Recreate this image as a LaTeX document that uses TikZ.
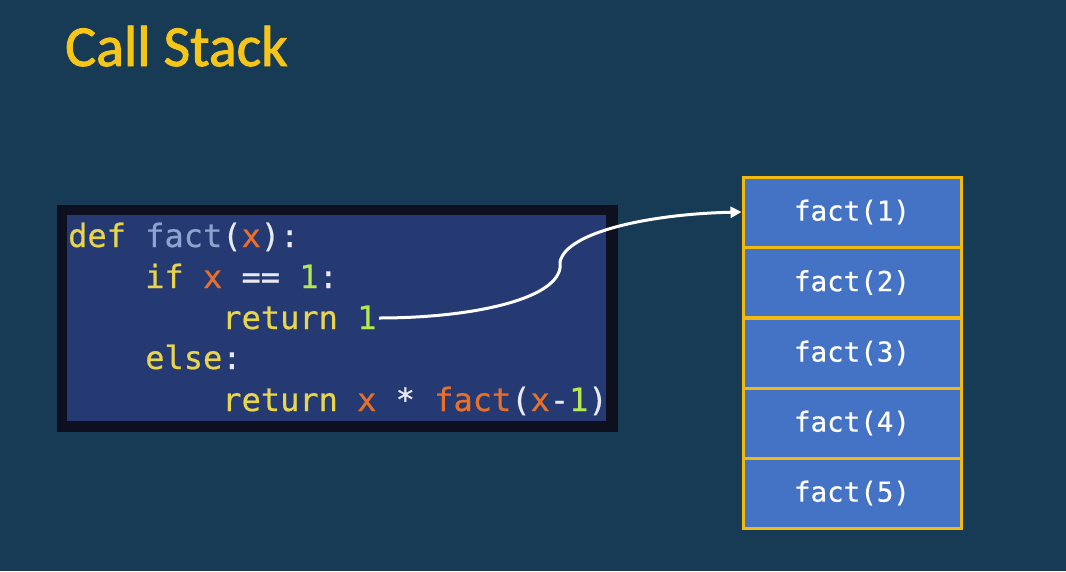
\documentclass[tikz,border=0pt]{standalone}
\usepackage{fontspec}
\setmainfont{Carlito}
\setmonofont[FakeBold=0.6]{DejaVu Sans Mono}
\newfontfamily\titlefont[FakeBold=1.6]{Carlito}
\usetikzlibrary{arrows.meta}
\definecolor{bgnavy}{HTML}{173A55}
\definecolor{titleyellow}{HTML}{F5C518}
\definecolor{codeframe}{HTML}{0E1020}
\definecolor{codebg}{HTML}{253A73}
\definecolor{kw}{HTML}{E8D44D}
\definecolor{fname}{HTML}{8FA3D0}
\definecolor{var}{HTML}{E8702A}
\definecolor{num}{HTML}{B5E853}
\definecolor{punct}{HTML}{E8E8F0}
\definecolor{frameblue}{HTML}{4472C4}
\definecolor{frameedge}{HTML}{F2B90F}
\tikzset{
  codeline/.style={anchor=base west, inner sep=0pt, font=\fontsize{32}{38}\selectfont\ttfamily, text=punct},
  stackframe/.style={draw=frameedge, line width=3pt, fill=frameblue, minimum width=218pt, minimum height=70pt, inner sep=0pt, text=white, font=\fontsize{27.5}{32}\selectfont\ttfamily},
}
\begin{document}
\begin{tikzpicture}[x=1pt,y=-1pt]
  \fill[bgnavy] (0,0) rectangle (1066,571);
  \useasboundingbox (0,0) rectangle (1066,571);

  % title
  \node[anchor=base west, inner sep=0pt, text=titleyellow, font=\fontsize{58}{64}\titlefont] (title) at (65,66) {Call Stack};

  % code panel
  \fill[codeframe] (57,205) rectangle (618,432);
  \fill[codebg] (67,215) rectangle (606,421);
  \node[codeline] (l1) at (68,247) {\textcolor{kw}{def} \textcolor{fname}{fact}(\textcolor{var}{x}):};
  \node[codeline] (l2) at (68,288) {\phantom{xxxx}\textcolor{kw}{if} \textcolor{var}{x} == \textcolor{num}{1}:};
  \node[codeline] (l3) at (68,329) {\phantom{xxxxxxxx}\textcolor{kw}{return} \textcolor{num}{1}};
  \node[codeline] (l4) at (68,369) {\phantom{xxxx}\textcolor{kw}{else}:};
  \node[codeline] (l5) at (68,411) {\phantom{xxxxxxxx}\textcolor{kw}{return} \textcolor{var}{x} * \textcolor{var}{fact}(\textcolor{var}{x}-\textcolor{num}{1})};

  % call stack frames
  \node[stackframe] (f1) at (852,212) {fact(1)};
  \node[stackframe] (f2) at (852,282.5) {fact(2)};
  \node[stackframe] (f3) at (852,353) {fact(3)};
  \node[stackframe] (f4) at (852,423) {fact(4)};
  \node[stackframe] (f5) at (852,493) {fact(5)};

  % return value flows to the top frame
  \coordinate (ret) at (379,318);
  \coordinate (kink) at (560,262);
  \draw[white, line width=3pt, -{Triangle[length=11pt,width=11pt]}]
    (ret) .. controls (470,318) and (555,300) .. (560,268)
    -- (kink) .. controls (566,232) and (650,214) .. (f1.west);
\end{tikzpicture}
\end{document}
